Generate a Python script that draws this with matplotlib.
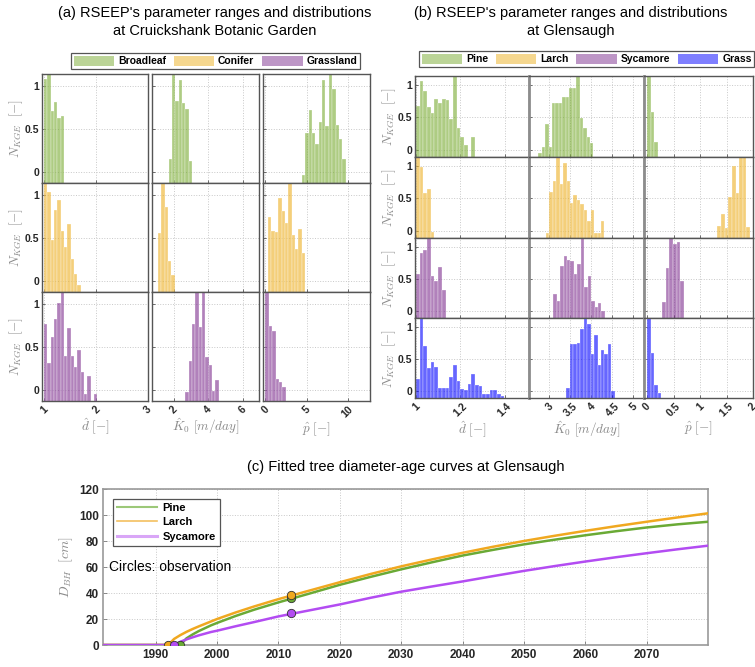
import matplotlib
matplotlib.use('Agg')
import matplotlib.pyplot as plt
from matplotlib.patches import Patch
from matplotlib.lines import Line2D

plt.rcParams['font.family'] = ['Liberation Sans', 'DejaVu Sans']
plt.rcParams['mathtext.fontset'] = 'cm'

# ---------------- data: panel (a) Cruickshank ----------------
a_d_width = 0.064
a_K0_width = 0.194
a_p_width = 0.41

a_broadleaf_d_start = 1.0
a_broadleaf_d = [1.08, 1.2, 0.71, 0.81, 0.63, 0.65]
a_broadleaf_K0_start = 1.71
a_broadleaf_K0 = [0.15, 1.2, 0.83, 1.07, 0.80, 0.73, 0.13]
a_broadleaf_p_start = 4.42
a_broadleaf_p = [-0.04, 0.45, 0.72, 0.45, 0.33, 0.58, 1.07, 0.53, 1.2, 0.96, 0.55, 0.38, 0.15]

a_conifer_d_start = 1.0
a_conifer_d = [1.2, 1.03, 0.48, 0.83, 0.94, 0.58, 0.39, 0.66, 0.25, 0.08, -0.05]
a_conifer_K0_start = 1.09
a_conifer_K0 = [0.56, 1.2, 0.86, 0.23, 0.07]
a_conifer_p_start = 0.32
a_conifer_p = [0.74, 0.58, 0.57, 0.96, 0.81, 0.67, 1.2, 0.53, 0.37, 0.60, 0.33]

a_grass_d_start = 1.0
a_grass_d = [0.77, 0.31, 0.61, 0.82, 1.01, 1.2, 0.40, 0.72, 0.39, 0.27, 0.47, 0.21, -0.05, 0.16, -0.13, -0.05]
a_grass_K0_start = 2.68
a_grass_K0 = [-0.02, 0.34, 0.77, 1.2, 0.73, 1.2, 0.38, 0.29, -0.01, 0.11]
a_grass_p_start = 0.0
a_grass_p = [1.2, 0.74, 0.68, 0.13, 0.09, 0.03]

# ---------------- data: panel (b) Glensaugh ----------------
b_d_width = 0.0166
b_K0_width = 0.0818
b_p_width = 0.068

b_pine_d_start = 1.0
b_pine_d = [0.67, 1.06, 0.91, 0.66, 0.57, 0.78, 0.73, 0.79, 0.77, 0.48, 1.2, 0.33, 0.20, 0.08, -0.11, 0.20]
b_pine_K0_start = 2.74
b_pine_K0 = [-0.05, 0.04, 0.40, 0.04, 0.72, 0.72, 0.72, 0.81, 0.81, 0.96, 0.96, 1.2, 0.49, 0.33, 0.20, 0.10]
b_pine_p_start = 0.0
b_pine_p = [1.2, 0.58, 0.12]

b_larch_d_start = 1.0
b_larch_d = [1.2, 0.99, 0.59, 0.65, -0.01]
b_larch_K0_start = 2.92
b_larch_K0 = [-0.03, 0.60, 0.77, 1.2, 0.73, 1.04, 0.77, 0.43, 0.56, 0.48, 0.42, 0.32, 0.15, 0.32, -0.03, -0.03, 0.16]
b_larch_p_start = 1.33
b_larch_p = [0.07, 0.26, 0.05, 0.53, 1.0, 0.58, 1.2, 1.2, 0.06]

b_syc_d_start = 1.0
b_syc_d = [0.58, 0.90, 0.95, 1.2, 0.55, 0.47, 0.69, 0.32]
b_syc_K0_start = 3.095
b_syc_K0 = [0.27, 0.16, 0.71, 0.86, 0.80, 0.78, 0.58, 0.73, 1.2, 0.38, 0.55, 0.16, 0.06, 0.12, 0.0]
b_syc_p_start = 0.285
b_syc_p = [0.14, 0.67, 1.2, 1.04, 1.07, 0.47]

b_grass_d_start = 1.0
b_grass_d = [0.19, 1.2, 0.71, 0.36, 0.46, 0.38, 0.04, 0.04, 0.04, 0.22, 0.41, 0.16, 0.03, 0.02,
             0.11, 0.27, 0.09, 0.08, -0.05, -0.05, 0.02, 0.01, -0.05, -0.08]
b_grass_K0_start = 3.41
b_grass_K0 = [0.05, 0.73, 0.74, 0.75, 0.97, 1.2, 1.05, 0.58, 0.87, 0.41, 0.64, 0.57, 0.73, 0.0]
b_grass_p_start = 0.0
b_grass_p = [1.2, 0.60, 0.09, -0.03]

# ---------------- data: panel (c) growth curves ----------------
years = [1981, 1992, 1993, 1994, 1995, 1996, 1997, 1999, 2000, 2003, 2006, 2010, 2015, 2020,
         2025, 2030, 2035, 2040, 2045, 2050, 2055, 2060, 2065, 2070, 2075, 2080]
pine_dbh = [0, 0, 0, 0, 5.1, 8.1, 10.7, 15.1, 17.0, 22.3, 27.1, 32.8, 39.5, 46.3,
            52.4, 58.2, 63.6, 68.8, 73.2, 77.4, 81.0, 84.4, 87.5, 90.4, 92.8, 94.8]
larch_dbh = [0, 0, 4.7, 7.6, 10.1, 12.3, 14.3, 18.1, 20.0, 25.0, 29.6, 35.3, 41.8, 48.3,
             54.6, 60.5, 65.8, 70.9, 75.6, 80.0, 84.0, 87.8, 91.4, 94.8, 98.1, 101.3]
syc_dbh = [0, 0, 0, 2.5, 4.3, 5.9, 7.4, 10.0, 11.0, 14.4, 17.6, 22.0, 26.6, 31.2,
           36.3, 41.0, 45.0, 48.9, 53.0, 57.0, 60.7, 64.2, 67.5, 70.6, 73.6, 76.4]
obs_pine_year = [1994, 2012]
obs_pine_dbh = [0, 36.3]
obs_larch_year = [1992, 2012]
obs_larch_dbh = [0, 38.7]
obs_syc_year = [1993, 2012]
obs_syc_dbh = [0, 24.7]

# ---------------- styling ----------------
W, H = 755, 667
fig = plt.figure(figsize=(W / 100, H / 100), dpi=100)


def rect(x0, x1, y0, y1):
    return [x0 / W, 1 - y1 / H, (x1 - x0) / W, (y1 - y0) / H]


GREEN = (0.47, 0.67, 0.19)
ORANGE = (0.93, 0.69, 0.13)
PURPLE = (0.49, 0.18, 0.56)
BLUE = (0.0, 0.0, 1.0)
GRAY_LAB = '#8a8a8a'
TICK_COL = '#262626'


def draw_hist(ax, start, width, vals, color, base):
    lefts = [start + i * width for i in range(len(vals))]
    heights = [v - base for v in vals]
    ax.bar(lefts, heights, width=width, bottom=base, align='edge', color=color,
           alpha=0.6, edgecolor=(1, 1, 1, 0.45), linewidth=0.35, zorder=2)


def style_hist_ax(ax, xlim, ylim, xticks, xticklabels, show_xlabels, show_ylabels,
                  spine_col='#555555', spine_lw=1.0):
    ax.set_xlim(*xlim)
    ax.set_ylim(*ylim)
    ax.set_xticks(xticks)
    ax.set_yticks([0, 0.5, 1])
    ax.grid(True, linestyle=':', color='#c8c8c8', linewidth=0.7)
    ax.set_axisbelow(True)
    ax.tick_params(direction='in', length=2.5, width=0.6, colors='#555555',
                   labelsize=7.5, labelcolor=TICK_COL, pad=2)
    if show_xlabels:
        ax.set_xticklabels(xticklabels, rotation=45, ha='center', fontweight='bold')
    else:
        ax.set_xticklabels([])
    if show_ylabels:
        ax.set_yticklabels(['0', '0.5', '1'], fontweight='bold')
    else:
        ax.set_yticklabels([])
    for s in ax.spines.values():
        s.set_color(spine_col)
        s.set_linewidth(spine_lw)


# ---------- panel (a) ----------
a_cols = [(42, 148), (152, 259), (263, 370)]
a_rows = [(74, 183), (183, 292), (292, 401)]
a_ylim = (-0.13, 1.14)
a_xlims = [(0.96, 3.0), (0.75, 6.95), (-0.3, 12.7)]
a_xticks = [[1, 2, 3], [2, 4, 6], [0, 5, 10]]
a_xticklabels = [['1', '2', '3'], ['2', '4', '6'], ['0', '5', '10']]
a_widths = [a_d_width, a_K0_width, a_p_width]
a_data = [
    [(a_broadleaf_d_start, a_broadleaf_d), (a_broadleaf_K0_start, a_broadleaf_K0), (a_broadleaf_p_start, a_broadleaf_p)],
    [(a_conifer_d_start, a_conifer_d), (a_conifer_K0_start, a_conifer_K0), (a_conifer_p_start, a_conifer_p)],
    [(a_grass_d_start, a_grass_d), (a_grass_K0_start, a_grass_K0), (a_grass_p_start, a_grass_p)],
]
a_colors = [GREEN, ORANGE, PURPLE]
xlab_texts = [r'$\hat{d}\ [-]$', r'$\hat{K}_0\ [m/day]$', r'$\hat{p}\ [-]$']

for r, (y0, y1) in enumerate(a_rows):
    for c, (x0, x1) in enumerate(a_cols):
        ax = fig.add_axes(rect(x0, x1, y0, y1))
        start, vals = a_data[r][c]
        draw_hist(ax, start, a_widths[c], vals, a_colors[r], a_ylim[0] - 0.05)
        style_hist_ax(ax, a_xlims[c], a_ylim, a_xticks[c], a_xticklabels[c],
                      r == 2, c == 0)
        if c == 0:
            ax.set_ylabel(r'$N_{KGE}\ \ [\mathrm{-}]$', color=GRAY_LAB, fontsize=9.5, labelpad=0)
        if r == 2:
            ax.set_xlabel(xlab_texts[c], color=GRAY_LAB, fontsize=9.5, labelpad=1)

# ---------- panel (b) ----------
b_cols = [(415, 529), (529, 644), (644, 753)]
b_rows = [(76, 157), (157, 238), (238, 318), (318, 398)]
b_ylim = (-0.11, 1.14)
b_xlims = [(0.995, 1.51), (2.52, 5.25), (-0.057, 2.0)]
b_xticks = [[1, 1.2, 1.4], [3, 3.5, 4, 4.5, 5], [0, 0.5, 1, 1.5, 2]]
b_xticklabels = [['1', '1.2', '1.4'], ['3', '3.5', '4', '4.5', '5'], ['0', '0.5', '1', '1.5', '2']]
b_widths = [b_d_width, b_K0_width, b_p_width]
b_data = [
    [(b_pine_d_start, b_pine_d), (b_pine_K0_start, b_pine_K0), (b_pine_p_start, b_pine_p)],
    [(b_larch_d_start, b_larch_d), (b_larch_K0_start, b_larch_K0), (b_larch_p_start, b_larch_p)],
    [(b_syc_d_start, b_syc_d), (b_syc_K0_start, b_syc_K0), (b_syc_p_start, b_syc_p)],
    [(b_grass_d_start, b_grass_d), (b_grass_K0_start, b_grass_K0), (b_grass_p_start, b_grass_p)],
]
b_colors = [GREEN, ORANGE, PURPLE, BLUE]

for r, (y0, y1) in enumerate(b_rows):
    for c, (x0, x1) in enumerate(b_cols):
        ax = fig.add_axes(rect(x0, x1, y0, y1))
        start, vals = b_data[r][c]
        draw_hist(ax, start, b_widths[c], vals, b_colors[r], b_ylim[0] - 0.05)
        style_hist_ax(ax, b_xlims[c], b_ylim, b_xticks[c], b_xticklabels[c],
                      r == 3, c == 0)
        if c > 0:
            ax.spines['left'].set_color('#8c8c8c')
            ax.spines['left'].set_linewidth(2.0)
        if c == 0:
            ax.set_ylabel(r'$N_{KGE}\ \ [\mathrm{-}]$', color=GRAY_LAB, fontsize=9.5, labelpad=0)
        if r == 3:
            ax.set_xlabel(xlab_texts[c], color=GRAY_LAB, fontsize=9.5, labelpad=1)

# ---------- titles ----------
fig.text(215 / W, 1 - 22 / H, "(a) RSEEP's parameter ranges and distributions\nat Cruickshank Botanic Garden",
         ha='center', va='center', fontsize=10.5, linespacing=1.3)
fig.text(571 / W, 1 - 22 / H, "(b) RSEEP's parameter ranges and distributions\nat Glensaugh",
         ha='center', va='center', fontsize=10.5, linespacing=1.3)

# ---------- legends for (a) and (b) ----------
leg_kw = dict(loc='lower left', handlelength=3.9, handleheight=1.1, columnspacing=0.75,
              handletextpad=0.35, borderpad=0.25, prop={'weight': 'bold', 'size': 7.5},
              fancybox=False, edgecolor='#555555', framealpha=1, borderaxespad=0)
leg_a = fig.legend(handles=[Patch(facecolor=GREEN, alpha=0.5, label='Broadleaf'),
                            Patch(facecolor=ORANGE, alpha=0.5, label='Conifer'),
                            Patch(facecolor=PURPLE, alpha=0.5, label='Grassland')],
                   bbox_to_anchor=(71 / W, 1 - 69 / H), ncol=3, **leg_kw)
leg_a.get_frame().set_linewidth(0.9)
leg_b = fig.legend(handles=[Patch(facecolor=GREEN, alpha=0.5, label='Pine'),
                            Patch(facecolor=ORANGE, alpha=0.5, label='Larch'),
                            Patch(facecolor=PURPLE, alpha=0.5, label='Sycamore'),
                            Patch(facecolor=BLUE, alpha=0.5, label='Grass')],
                   bbox_to_anchor=(419 / W, 1 - 67 / H), ncol=4, **leg_kw)
leg_b.get_frame().set_linewidth(0.9)

# ---------- panel (c) ----------
C_PINE = '#6aaa35'
C_LARCH = '#f0a820'
C_SYC = '#b34cf2'
axc = fig.add_axes(rect(103, 708, 489, 645))
axc.plot(years, pine_dbh, color=C_PINE, lw=1.8, zorder=3)
axc.plot(years, larch_dbh, color=C_LARCH, lw=1.8, zorder=3)
axc.plot(years, syc_dbh, color=C_SYC, lw=1.8, zorder=3)
axc.plot(obs_pine_year, obs_pine_dbh, 'o', ms=6, mfc=C_PINE, mec='#333333', mew=0.6, zorder=4)
axc.plot(obs_larch_year, obs_larch_dbh, 'o', ms=6, mfc=C_LARCH, mec='#333333', mew=0.6, zorder=5)
axc.plot(obs_syc_year, obs_syc_dbh, 'o', ms=6, mfc=C_SYC, mec='#333333', mew=0.6, zorder=6)
axc.set_xlim(1981.4, 2080)
axc.set_ylim(0, 120)
axc.set_xticks(list(range(1990, 2080, 10)))
axc.set_yticks(list(range(0, 121, 20)))
axc.grid(True, linestyle=':', color='#c8c8c8', linewidth=0.7)
axc.set_axisbelow(True)
axc.tick_params(direction='in', length=3, width=0.6, colors='#777777',
                labelsize=8.5, labelcolor=TICK_COL, pad=3)
for lab in axc.get_xticklabels() + axc.get_yticklabels():
    lab.set_fontweight('bold')
for s in axc.spines.values():
    s.set_color('#999999')
    s.set_linewidth(1.2)
axc.set_ylabel(r'$D_{BH}\ \ [cm]$', color=GRAY_LAB, fontsize=10, labelpad=3)
axc.set_title('(c) Fitted tree diameter-age curves at Glensaugh', fontsize=10.5, pad=13)
axc.text(1982.3, 60, 'Circles: observation', fontsize=10, va='center', ha='left')
leg_c = axc.legend(handles=[Line2D([], [], color='#9cc878', lw=1.5, label='Pine'),
                            Line2D([], [], color='#f3c060', lw=1.2, label='Larch'),
                            Line2D([], [], color='#d9a6f7', lw=2.2, label='Sycamore')],
                   loc='upper left', bbox_to_anchor=(0.0165, 0.936), borderaxespad=0,
                   handlelength=3.6, handletextpad=0.5, labelspacing=0.4, borderpad=0.35,
                   prop={'weight': 'bold', 'size': 8}, fancybox=False, edgecolor='#555555',
                   framealpha=1)
leg_c.get_frame().set_linewidth(0.9)

fig.savefig('out.png', dpi=100)
